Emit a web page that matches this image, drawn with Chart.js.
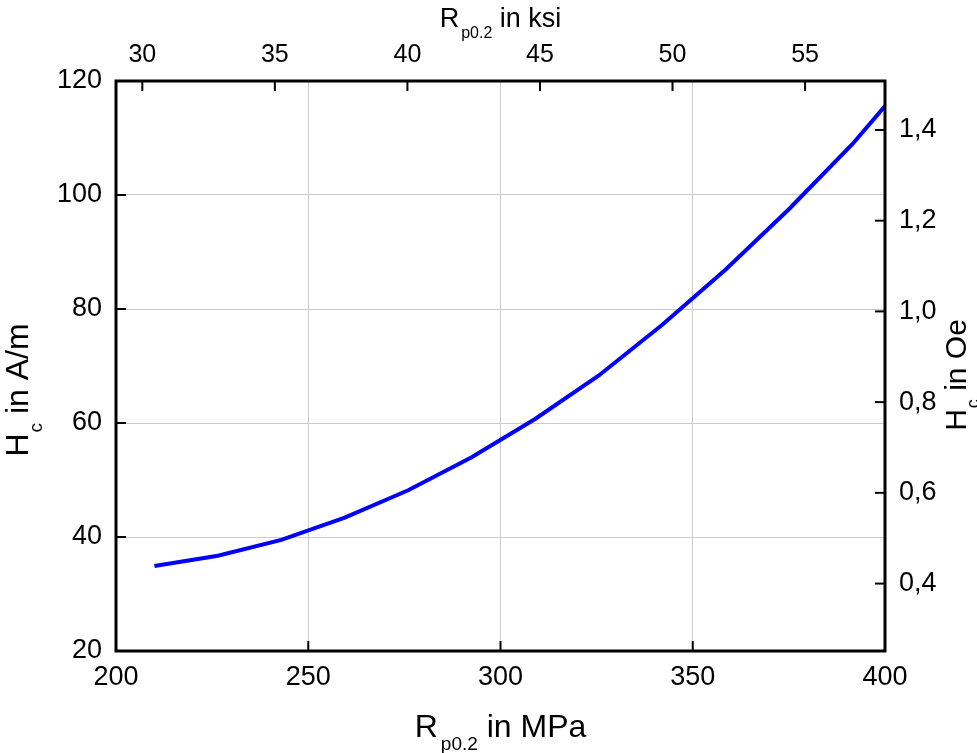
<!DOCTYPE html>
<html>
<head>
<meta charset="utf-8">
<script src="https://cdn.jsdelivr.net/npm/chart.js@4/dist/chart.umd.min.js"></script>
<style>
  html, body { margin: 0; padding: 0; background: #fff; }
  #wrap { width: 977px; height: 753px; }
</style>
</head>
<body>
<div id="wrap"><canvas id="c" width="977" height="753"></canvas></div>
<script>
// Rp0.2 in MPa vs coercivity Hc in A/m
const rpMpa = [210, 226.5, 243, 259.5, 276, 292.5, 309, 325.5, 342, 358.5, 375, 391.5, 400];
const hcAm  = [34.9, 36.7, 39.5, 43.4, 48.2, 54.0, 60.7, 68.3, 77.2, 86.9, 97.5, 108.9, 115.6];

const ksiTicks = [30, 35, 40, 45, 50, 55];
const oeTicks  = [0.4, 0.6, 0.8, 1.0, 1.2, 1.4];

const MPA_PER_KSI = 6.894757;
const OE_PER_AM = 0.01256637;

const FONT = "'Liberation Sans', Arial, sans-serif";
const gridCol = "#cccccc";

function innerGrid(edges) {
    return ctx => (edges.includes(ctx.tick.value) ? "rgba(0,0,0,0)" : gridCol);
}

// frame + inward tick marks + titles with subscripts
const decor = {
    id: "decor",
    afterDraw(chart) {
        const { ctx, chartArea: a, scales } = chart;
        ctx.save();
        ctx.strokeStyle = "#000";
        ctx.lineWidth = 2;
        const tl = 10;
        scales.y.ticks.forEach(t => {
            const py = scales.y.getPixelForValue(t.value);
            ctx.beginPath(); ctx.moveTo(a.left, py); ctx.lineTo(a.left + tl, py); ctx.stroke();
        });
        scales.x.ticks.forEach(t => {
            const px = scales.x.getPixelForValue(t.value);
            ctx.beginPath(); ctx.moveTo(px, a.bottom); ctx.lineTo(px, a.bottom - tl); ctx.stroke();
        });
        scales.x2.ticks.forEach(t => {
            const px = scales.x2.getPixelForValue(t.value);
            ctx.beginPath(); ctx.moveTo(px, a.top); ctx.lineTo(px, a.top + tl); ctx.stroke();
        });
        scales.y2.ticks.forEach(t => {
            const py = scales.y2.getPixelForValue(t.value);
            ctx.beginPath(); ctx.moveTo(a.right, py); ctx.lineTo(a.right - tl, py); ctx.stroke();
        });
        ctx.lineWidth = 3;
        ctx.strokeRect(a.left, a.top, a.right - a.left, a.bottom - a.top);

        const cx = (a.left + a.right) / 2;
        drawRich(ctx, [["R", 32, 0, 3], ["p0.2", 19, 13, 0], [" in MPa", 32, 0, 0]], cx, 737, 0);
        drawRich(ctx, [["R", 27, 0, 2], ["p0.2", 16, 11, 0], [" in ksi", 27, 0, 0]], cx, 27, 0);
        drawRich(ctx, [["H", 32, 0, 1], ["c", 19, 14, 0], [" in A/m", 32, 0, 0]], 28, 390, -Math.PI / 2);
        drawRich(ctx, [["H", 30, 0, 1], ["c", 18, 13, 0], [" in Oe", 30, 0, 0]], 966, 375, -Math.PI / 2);
        ctx.restore();
    }
};

// parts: [text, font size, baseline shift, extra gap after]
function drawRich(ctx, parts, x, y, rot) {
    ctx.save();
    ctx.translate(x, y);
    ctx.rotate(rot);
    ctx.fillStyle = "#000";
    ctx.textBaseline = "alphabetic";
    ctx.textAlign = "left";
    let w = 0;
    parts.forEach(p => { ctx.font = p[1] + "px " + FONT; w += ctx.measureText(p[0]).width + p[3]; });
    let px = -w / 2;
    parts.forEach(p => {
        ctx.font = p[1] + "px " + FONT;
        ctx.fillText(p[0], px, p[2]);
        px += ctx.measureText(p[0]).width + p[3];
    });
    ctx.restore();
}

const tickFont = { family: FONT, size: 27 };

new Chart(document.getElementById("c"), {
    type: "line",
    data: {
        datasets: [{
            data: rpMpa.map((x, i) => ({ x, y: hcAm[i] })),
            borderColor: "#0000ff",
            borderWidth: 4,
            pointRadius: 0,
            tension: 0,
            fill: false,
            xAxisID: "x",
            yAxisID: "y"
        }]
    },
    options: {
        responsive: false,
        animation: false,
        events: [],
        layout: { padding: 0 },
        plugins: { legend: { display: false }, tooltip: { enabled: false } },
        scales: {
            x: {
                type: "linear", position: "bottom", min: 200, max: 400,
                ticks: { stepSize: 50, font: tickFont, color: "#000", padding: 10, maxRotation: 0 },
                grid: { color: innerGrid([200, 400]), drawTicks: false, lineWidth: 1 },
                border: { display: false },
                afterFit: s => { s.height = 102; }
            },
            x2: {
                type: "linear", position: "top",
                min: 200 / MPA_PER_KSI, max: 400 / MPA_PER_KSI,
                afterBuildTicks: s => { s.ticks = ksiTicks.map(v => ({ value: v })); },
                ticks: { font: { family: FONT, size: 25 }, color: "#000", padding: 11, maxRotation: 0, autoSkip: false },
                grid: { display: false, drawTicks: false },
                border: { display: false },
                afterFit: s => { s.height = 81; }
            },
            y: {
                type: "linear", position: "left", min: 20, max: 120,
                ticks: { stepSize: 20, font: tickFont, color: "#000", padding: 14 },
                grid: { color: innerGrid([20, 120]), drawTicks: false, lineWidth: 1 },
                border: { display: false },
                afterFit: s => { s.width = 116; }
            },
            y2: {
                type: "linear", position: "right",
                min: 20 * OE_PER_AM, max: 120 * OE_PER_AM,
                afterBuildTicks: s => { s.ticks = oeTicks.map(v => ({ value: v })); },
                ticks: {
                    font: tickFont, color: "#000", padding: 14, autoSkip: false,
                    callback: v => v.toFixed(1).replace(".", ",")
                },
                grid: { display: false, drawTicks: false },
                border: { display: false },
                afterFit: s => { s.width = 92; }
            }
        }
    },
    plugins: [decor]
});
</script>
</body>
</html>
